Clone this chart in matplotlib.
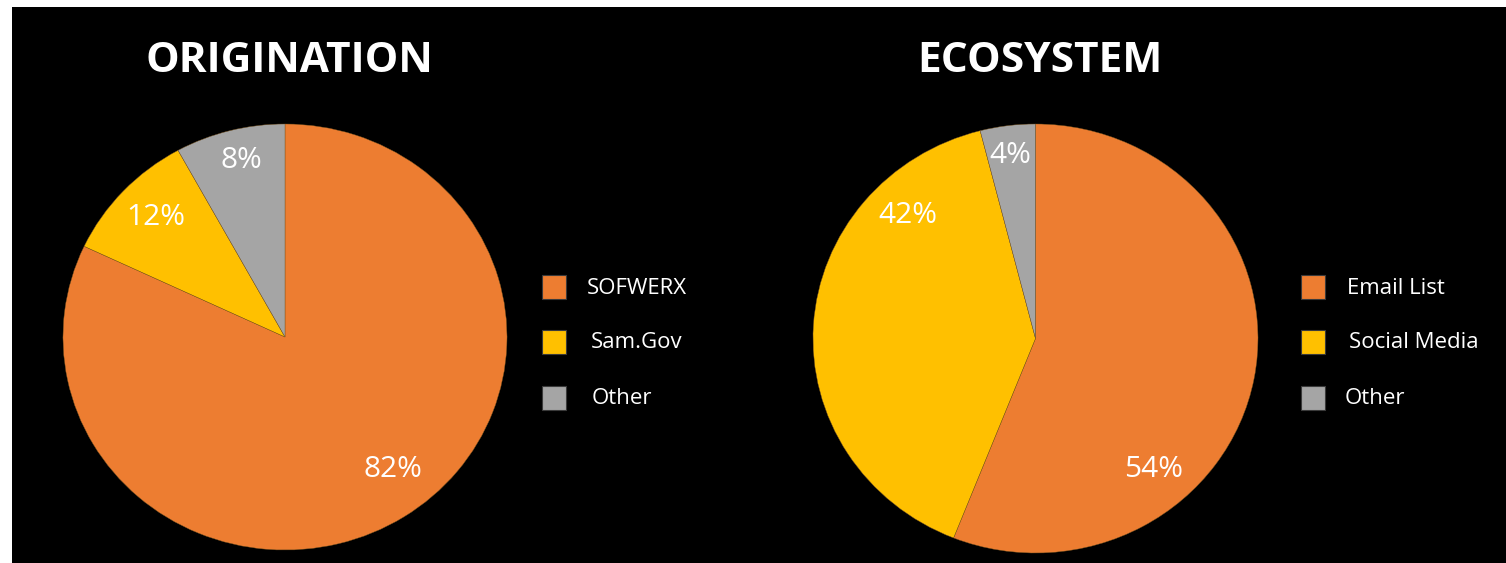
"""Two pie charts on a black panel: ORIGINATION and ECOSYSTEM."""

import matplotlib as mpl
import matplotlib.pyplot as plt
import numpy as np
from matplotlib.patches import Rectangle

mpl.use("Agg")
plt.rcParams["font.family"] = ["Open Sans", "DejaVu Sans"]

W, H = 1506, 563
ORANGE, YELLOW, GRAY = "#ED7D31", "#FFC000", "#A5A5A5"
COLORS = [ORANGE, YELLOW, GRAY]

# data (wedge sizes as drawn, labels as printed)
orig_cats = ["SOFWERX", "Sam.Gov", "Other"]
orig_sizes = [82, 10, 8]
orig_labels = ["82%", "12%", "8%"]

eco_cats = ["Email List", "Social Media", "Other"]
eco_sizes = [56, 40, 4]
eco_labels = ["54%", "42%", "4%"]

# label placement: (angle ccw from top in degrees, radius)
orig_label_pos = [(218, 0.79), (46, 0.81), (13.5, 0.85)]
eco_label_pos = [(221, 0.81), (45, 0.81), (7.5, 0.86)]


def px(x, y):
    return x / W, 1 - y / H


def pie_panel(fig, rect, sizes, labels, label_pos):
    ax = fig.add_axes(rect)
    ax.pie(sizes, colors=COLORS, startangle=90, counterclock=False,
           wedgeprops=dict(edgecolor="#7a5520", linewidth=0.3))
    ax.set_aspect("auto")
    ax.set_xlim(-1, 1); ax.set_ylim(-1, 1)
    ax.axis("off")
    for lab, (ang, r) in zip(labels, label_pos):
        a = np.deg2rad(ang)
        ax.text(-r * np.sin(a), r * np.cos(a), lab, color="white", fontsize=21.5,
                ha="center", va="center")
    return ax


def legend(fig, cats, sq_x, text_x, ys):
    for cat, col, tx, y in zip(cats, COLORS, text_x, ys):
        x0, y0 = px(sq_x, y + 12)
        fig.patches.append(Rectangle((x0, y0), 24 / W, 24 / H, transform=fig.transFigure,
                                     facecolor=col, edgecolor="#3a3a3a", lw=0.8))
        fig.text(*px(tx, y + 1), cat, color="white", fontsize=16, ha="left", va="center")


def main():
    fig = plt.figure(figsize=(W / 100, H / 100), dpi=100, facecolor="white")
    x0, y0 = px(12, H)
    fig.patches.append(Rectangle((x0, y0), 1 - x0, 1 - 7 / H - y0,
                                 transform=fig.transFigure, facecolor="black", zorder=-10))

    pie_panel(fig, [63 / W, 13 / H, 444 / W, 426 / H], orig_sizes, orig_labels, orig_label_pos)
    pie_panel(fig, [813 / W, 10 / H, 445 / W, 429 / H], eco_sizes, eco_labels, eco_label_pos)

    fig.text(*px(289, 62), "ORIGINATION", color="white", fontsize=30.5, fontweight="bold",
             ha="center", va="center")
    fig.text(*px(1040, 62), "ECOSYSTEM", color="white", fontsize=30.5, fontweight="bold",
             ha="center", va="center")

    ys = [287, 341.5, 397.5]
    legend(fig, orig_cats, 542, [587, 591, 592], ys)
    legend(fig, eco_cats, 1301, [1347, 1349, 1345], ys)

    fig.savefig("out.png", dpi=100, facecolor="white")


if __name__ == "__main__":
    main()
